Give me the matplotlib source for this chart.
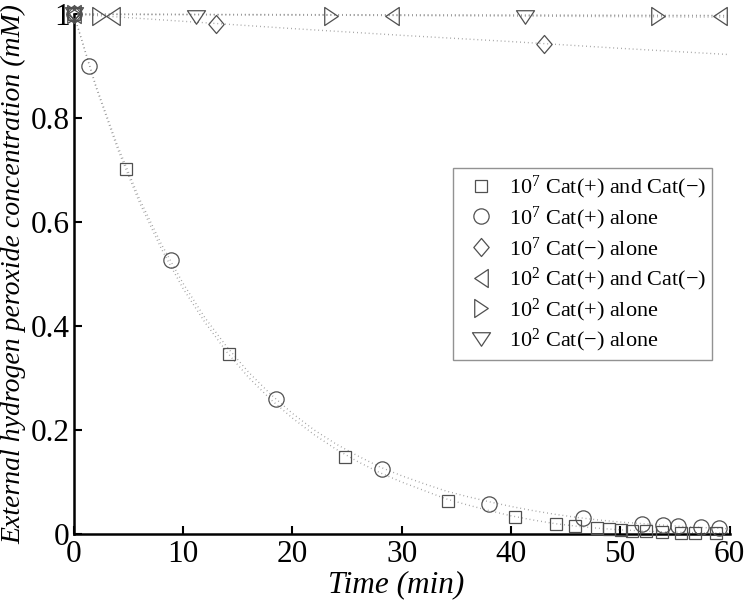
import matplotlib
matplotlib.use("Agg")
import matplotlib.pyplot as plt
from matplotlib.path import Path

plt.rcParams['font.family'] = ['Liberation Serif', 'DejaVu Serif']
plt.rcParams['mathtext.fontset'] = 'custom'
plt.rcParams['mathtext.rm'] = 'Liberation Serif'
plt.rcParams['mathtext.it'] = 'Liberation Serif:italic'

# ---- data (time in min, concentration in mM) ----
sq_t = [0, 4.82, 14.23, 24.8, 34.27, 40.36, 44.1, 45.9, 47.9, 48.97, 50.06, 51.1, 52.4, 53.8, 55.55, 56.8, 58.8]
sq_v = [1.0, 0.702, 0.346, 0.148, 0.063, 0.033, 0.019, 0.015, 0.011, 0.009, 0.008, 0.006, 0.005, 0.004, 0.0025, 0.0025, 0.0013]

ci_t = [0, 1.4, 8.89, 18.5, 28.2, 38.0, 46.6, 52.0, 53.9, 55.3, 57.4, 59.0]
ci_v = [1.0, 0.900, 0.527, 0.260, 0.125, 0.058, 0.030, 0.019, 0.017, 0.015, 0.013, 0.011]

di_t = [0, 13.0, 43.05]
di_v = [1.0, 0.981, 0.943]

tl_t = [0, 3.6, 29.1, 59.1]
tl_v = [1.0, 0.997, 0.997, 0.997]

tr_t = [0, 2.3, 23.5, 53.5]
tr_v = [1.0, 0.997, 0.997, 0.997]

td_t = [0, 11.2, 41.3]
td_v = [1.0, 0.995, 0.994]

# fitted curves
fit_t = [0, 2, 4, 6, 8, 10, 12, 14, 16, 18, 20, 22, 24, 26, 28, 30, 32, 34, 36, 38, 40, 42, 44, 46, 48, 50, 52, 54, 56, 58, 60]
fit_sq = [1.0, 0.861, 0.741, 0.638, 0.549, 0.472, 0.407, 0.350, 0.301, 0.259, 0.223, 0.191, 0.163, 0.139, 0.118, 0.100, 0.084, 0.068, 0.056, 0.045, 0.035, 0.027, 0.020, 0.015, 0.011, 0.008, 0.006, 0.004, 0.003, 0.002, 0.002]
fit_ci = [1.0, 0.864, 0.747, 0.645, 0.558, 0.482, 0.416, 0.360, 0.311, 0.269, 0.232, 0.200, 0.173, 0.150, 0.129, 0.112, 0.097, 0.083, 0.072, 0.062, 0.053, 0.045, 0.038, 0.032, 0.027, 0.023, 0.020, 0.017, 0.014, 0.012, 0.010]
fitd_t = [0, 10, 20, 30, 40, 50, 60]
fit_di = [1.0, 0.986, 0.972, 0.959, 0.947, 0.934, 0.922]
flat_t = [0, 60]
fit_tl = [1.0, 0.997]
fit_tr = [0.999, 0.997]
fit_td = [1.0, 0.994]

labels = [r'10$^7$ Cat(+) and Cat(−)', r'10$^7$ Cat(+) alone', r'10$^7$ Cat(−) alone',
          r'10$^2$ Cat(+) and Cat(−)', r'10$^2$ Cat(+) alone', r'10$^2$ Cat(−) alone']

# custom markers (Matlab-like proportions)
m_diamond = Path([(0, 1), (0.85, 0), (0, -1), (-0.85, 0), (0, 1)], closed=True)
m_left = Path([(0.75, 1), (-0.75, 0), (0.75, -1), (0.75, 1)], closed=True)
m_right = Path([(-0.75, 1), (0.75, 0), (-0.75, -1), (-0.75, 1)], closed=True)
m_down = Path([(-1, 0.75), (1, 0.75), (0, -0.75), (-1, 0.75)], closed=True)

fig = plt.figure(figsize=(7.49, 6.04), dpi=100)
ax = fig.add_axes([0.0985, 0.1159, 0.8755, 0.8609])

lc = '#9a9a9a'
for fx, fy in [(fit_t, fit_sq), (fit_t, fit_ci), (fitd_t, fit_di),
               (flat_t, fit_tl), (flat_t, fit_tr), (flat_t, fit_td)]:
    ax.plot(fx, fy, linestyle=(0, (0.6, 2.2)), color=lc, lw=1.0, zorder=2)

mc = '#505050'
kw = dict(linestyle='none', markerfacecolor='none', markeredgecolor=mc, markeredgewidth=0.9, zorder=3)
ax.plot(sq_t, sq_v, marker='s', markersize=8.2, label=labels[0], **kw)
ax.plot(ci_t, ci_v, marker='o', markersize=11, label=labels[1], **kw)
ax.plot(di_t, di_v, marker=m_diamond, markersize=13, label=labels[2], **kw)
ax.plot(tl_t, tl_v, marker=m_left, markersize=13, label=labels[3], **kw)
ax.plot(tr_t, tr_v, marker=m_right, markersize=13, label=labels[4], **kw)
ax.plot(td_t, td_v, marker=m_down, markersize=13, label=labels[5], **kw)

ax.set_xlim(0, 60)
ax.set_ylim(0, 1)
ax.set_xticks([0, 10, 20, 30, 40, 50, 60])
ax.set_yticks([0, 0.2, 0.4, 0.6, 0.8, 1.0])
ax.set_yticklabels(['0', '0.2', '0.4', '0.6', '0.8', '1'])
for s in ['top', 'right']:
    ax.spines[s].set_visible(False)
for s in ['left', 'bottom']:
    ax.spines[s].set_linewidth(1.8)
    ax.spines[s].set_clip_on(False)
ax.tick_params(direction='in', length=6, width=1.5, labelsize=22.5)
ax.tick_params(axis='x', pad=4)
ax.tick_params(axis='y', pad=3)

ax.set_xlabel('Time (min)', fontsize=22.5, style='italic')
ax.set_ylabel('External hydrogen peroxide concentration (mM)', fontsize=20, style='italic')
ax.xaxis.set_label_coords(0.492, -0.069)
ax.yaxis.set_label_coords(-0.072, 0.50)

for line in ax.lines:
    line.set_clip_on(False)

leg = ax.legend(loc='upper left', bbox_to_anchor=(0.578, 0.704), fontsize=16, frameon=True,
                fancybox=False, edgecolor='#777777', handlelength=2.0, handletextpad=0.25,
                labelspacing=0.15, borderpad=0.28, borderaxespad=0)
leg.get_frame().set_linewidth(1.0)

fig.savefig('out.png', dpi=100)
